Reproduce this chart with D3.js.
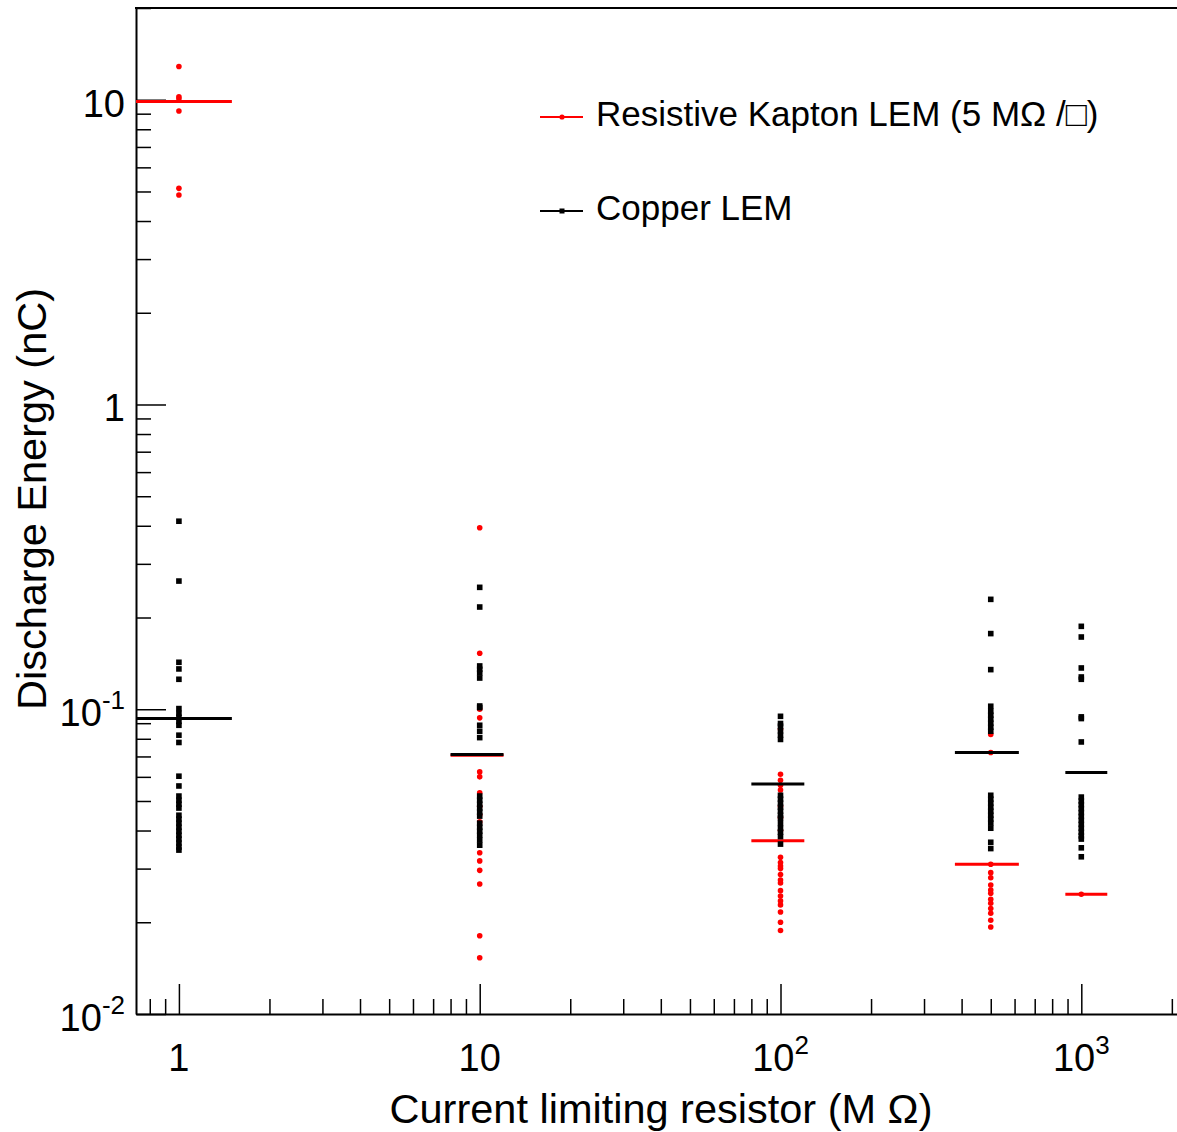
<!DOCTYPE html>
<html>
<head>
<meta charset="utf-8">
<script src="https://cdn.jsdelivr.net/npm/d3@7"></script>
<style>
  html, body { margin: 0; padding: 0; background: #fff; }
  svg { display: block; font-family: "Liberation Sans", Arial, Helvetica, sans-serif; }
</style>
</head>
<body>
<svg id="chart" width="1177" height="1132"></svg>
<script>
// Resistor settings (MΩ) at which discharges were recorded
const resistors = [1, 10, 100, 500, 1000];

// Horizontal extent of each summary bar (MΩ)
const barLow  = [0.5, 8, 80, 380, 885];
const barHigh = [1.5, 12, 120, 620, 1220];

// Resistive Kapton LEM discharge energies (nC), one list per resistor
const kapton1    = [12.86, 10.23, 10.08, 9.18, 5.12, 4.87];
const kapton10   = [0.394, 0.1526, 0.100, 0.0937, 0.0623, 0.060, 0.0532, 0.048, 0.045, 0.0427,
                    0.0338, 0.0318, 0.0296, 0.0267, 0.01806, 0.0153];
const kapton100  = [0.0860, 0.0612, 0.0585, 0.0563, 0.0543, 0.048, 0.044, 0.040, 0.0327, 0.0314,
                    0.0306, 0.0300, 0.0287, 0.0275, 0.0269, 0.0254, 0.0244, 0.0235, 0.0228,
                    0.0216, 0.0200, 0.0188];
const kapton500  = [0.0826, 0.0721, 0.0310, 0.0291, 0.0280, 0.0265, 0.0255, 0.0249, 0.0238,
                    0.0231, 0.0222, 0.0214, 0.0203, 0.0193];
const kapton1000 = [0.0247];
const kaptonMean = [9.87, 0.0707, 0.0370, 0.0310, 0.0247];

// Copper LEM discharge energies (nC), one list per resistor
const copper1    = [0.414, 0.2634, 0.1426, 0.1356, 0.1254, 0.1005, 0.097, 0.0941, 0.0913, 0.0886,
                    0.0822, 0.0778, 0.0603, 0.0560, 0.0519, 0.0503, 0.0488, 0.0474, 0.0449,
                    0.0436, 0.0423, 0.0410, 0.0398, 0.0386, 0.0375, 0.0364, 0.0353, 0.0345];
const copper10   = [0.2512, 0.2165, 0.1387, 0.1352, 0.1315, 0.1266, 0.1025, 0.1013, 0.0886,
                    0.0847, 0.0807, 0.0519, 0.0503, 0.0488, 0.0474, 0.046, 0.0446, 0.0423,
                    0.041, 0.0398, 0.0386, 0.0372, 0.0358];
const copper100  = [0.0948, 0.0898, 0.0880, 0.0849, 0.0822, 0.0796, 0.0522, 0.0507, 0.0492,
                    0.0477, 0.0463, 0.0449, 0.0439, 0.0422, 0.0407, 0.0395, 0.0382, 0.0361];
const copper500  = [0.2294, 0.1771, 0.1349, 0.1023, 0.0985, 0.0956, 0.0928, 0.0900, 0.0873,
                    0.0847, 0.0522, 0.0507, 0.0492, 0.0477, 0.0463, 0.0449, 0.0436, 0.0423,
                    0.0407, 0.0366, 0.0349];
const copper1000 = [0.1871, 0.1726, 0.1366, 0.1276, 0.1254, 0.0944, 0.0932, 0.0781, 0.0515,
                    0.0500, 0.0486, 0.0472, 0.0458, 0.0445, 0.0432, 0.0419, 0.0407, 0.0395,
                    0.0384, 0.0375, 0.0351, 0.0328];
const copperMean = [0.0932, 0.0710, 0.0568, 0.0721, 0.0620];

// Axis tick labels: [mantissa text, exponent text]
const xTickValues = [1, 10, 100, 1000];
const xTickLabels = [["1", ""], ["10", ""], ["10", "2"], ["10", "3"]];
const yTickValues = [0.01, 0.1, 1, 10];
const yTickLabels = [["10", "-2"], ["10", "-1"], ["1", ""], ["10", ""]];

const seriesNames = ["Resistive Kapton LEM (5 M\u03A9 /\u25A1)", "Copper LEM"];

const kaptonSets = [kapton1, kapton10, kapton100, kapton500, kapton1000];
const copperSets = [copper1, copper10, copper100, copper500, copper1000];

// ---- layout ----
const svg = d3.select("#chart");
const frameL = 136, frameR = 1201, frameT = 8, frameB = 1014;

const x = d3.scaleLog().domain([0.72, 2500]).range([frameL, frameR]);
const y = d3.scaleLog().domain([0.01, 20]).range([frameB, frameT]);

svg.append("defs").append("clipPath").attr("id", "plot")
  .append("rect").attr("x", frameL).attr("y", frameT)
  .attr("width", frameR - frameL).attr("height", frameB - frameT);

// minor tick values for each decade
function minorTicks(lo, hi) {
  const out = [];
  for (let e = -3; e <= 4; e++) {
    for (let m = 2; m <= 9; m++) {
      const v = m * Math.pow(10, e);
      if (v >= lo && v <= hi) out.push(v);
    }
  }
  return out;
}

const axisStyle = g => {
  g.selectAll("path.domain").attr("stroke", "#000").attr("stroke-width", 2);
  g.selectAll(".tick line").attr("stroke", "#000").attr("stroke-width", 1.5);
  g.selectAll(".tick text").remove();
};

// x axis (ticks pointing into the frame)
svg.append("g").attr("transform", `translate(0,${frameB})`)
  .call(d3.axisBottom(x).tickValues(xTickValues).tickSizeInner(-30).tickSizeOuter(0).tickFormat(""))
  .call(axisStyle);
svg.append("g").attr("transform", `translate(0,${frameB})`)
  .call(d3.axisBottom(x).tickValues(minorTicks(0.72, 2500)).tickSizeInner(-15).tickSizeOuter(0).tickFormat(""))
  .call(axisStyle).call(g => g.select("path.domain").remove());

// y axis
svg.append("g").attr("transform", `translate(${frameL},0)`)
  .call(d3.axisLeft(y).tickValues(yTickValues).tickSizeInner(-30).tickSizeOuter(0).tickFormat(""))
  .call(axisStyle);
svg.append("g").attr("transform", `translate(${frameL},0)`)
  .call(d3.axisLeft(y).tickValues(minorTicks(0.01, 20)).tickSizeInner(-15).tickSizeOuter(0).tickFormat(""))
  .call(axisStyle).call(g => g.select("path.domain").remove());

// top frame line
svg.append("line").attr("x1", frameL - 1).attr("x2", frameR).attr("y1", frameT).attr("y2", frameT)
  .attr("stroke", "#000").attr("stroke-width", 2);

// tick labels
function powerLabel(sel, parts) {
  sel.append("tspan").text(parts[0]);
  if (parts[1]) sel.append("tspan").attr("font-size", 26).attr("dy", -17).text(parts[1]);
}
xTickValues.forEach((v, i) => {
  svg.append("text").attr("x", x(v)).attr("y", 1071).attr("font-size", 38)
    .attr("text-anchor", "middle").call(powerLabel, xTickLabels[i]);
});
yTickValues.forEach((v, i) => {
  svg.append("text").attr("x", 125).attr("y", y(v) + 17).attr("font-size", 38)
    .attr("text-anchor", "end").call(powerLabel, yTickLabels[i]);
});

// axis titles
svg.append("text").attr("x", 661).attr("y", 1123).attr("font-size", 41.5)
  .attr("text-anchor", "middle").text("Current limiting resistor (M \u03A9)");
svg.append("text").attr("transform", "translate(46,499) rotate(-90)").attr("font-size", 41.5)
  .attr("text-anchor", "middle").text("Discharge Energy (nC)");

// ---- data marks ----
const plot = svg.append("g").attr("clip-path", "url(#plot)");

function drawSeries(sets, means, color, shape) {
  const g = plot.append("g");
  resistors.forEach((r, i) => {
    const pts = g.selectAll(null).data(sets[i]);
    if (shape === "circle") {
      pts.enter().append("circle").attr("cx", x(r)).attr("cy", d => y(d)).attr("r", 2.8).attr("fill", color);
    } else {
      pts.enter().append("rect").attr("x", x(r) - 2.8).attr("y", d => y(d) - 2.8)
        .attr("width", 5.6).attr("height", 5.6).attr("fill", color);
    }
  });
  g.selectAll(null).data(resistors).enter().append("line")
    .attr("x1", (d, i) => x(barLow[i])).attr("x2", (d, i) => x(barHigh[i]))
    .attr("y1", (d, i) => y(means[i])).attr("y2", (d, i) => y(means[i]))
    .attr("stroke", color).attr("stroke-width", 3);
}
drawSeries(kaptonSets, kaptonMean, "#ff0000", "circle");
drawSeries(copperSets, copperMean, "#000000", "square");

// ---- legend ----
const legend = svg.append("g");
const legendRows = [
  { name: seriesNames[0], color: "#ff0000", shape: "circle", ypos: 117 },
  { name: seriesNames[1], color: "#000000", shape: "square", ypos: 211 }
];
legendRows.forEach(row => {
  legend.append("line").attr("x1", 540).attr("x2", 583).attr("y1", row.ypos).attr("y2", row.ypos)
    .attr("stroke", row.color).attr("stroke-width", 2);
  if (row.shape === "circle") {
    legend.append("circle").attr("cx", 562).attr("cy", row.ypos).attr("r", 2.6).attr("fill", row.color);
  } else {
    legend.append("rect").attr("x", 559.5).attr("y", row.ypos - 2.5).attr("width", 5).attr("height", 5).attr("fill", row.color);
  }
  legend.append("text").attr("x", 596).attr("y", row.ypos + 9).attr("font-size", 35).text(row.name);
});
</script>
</body>
</html>
